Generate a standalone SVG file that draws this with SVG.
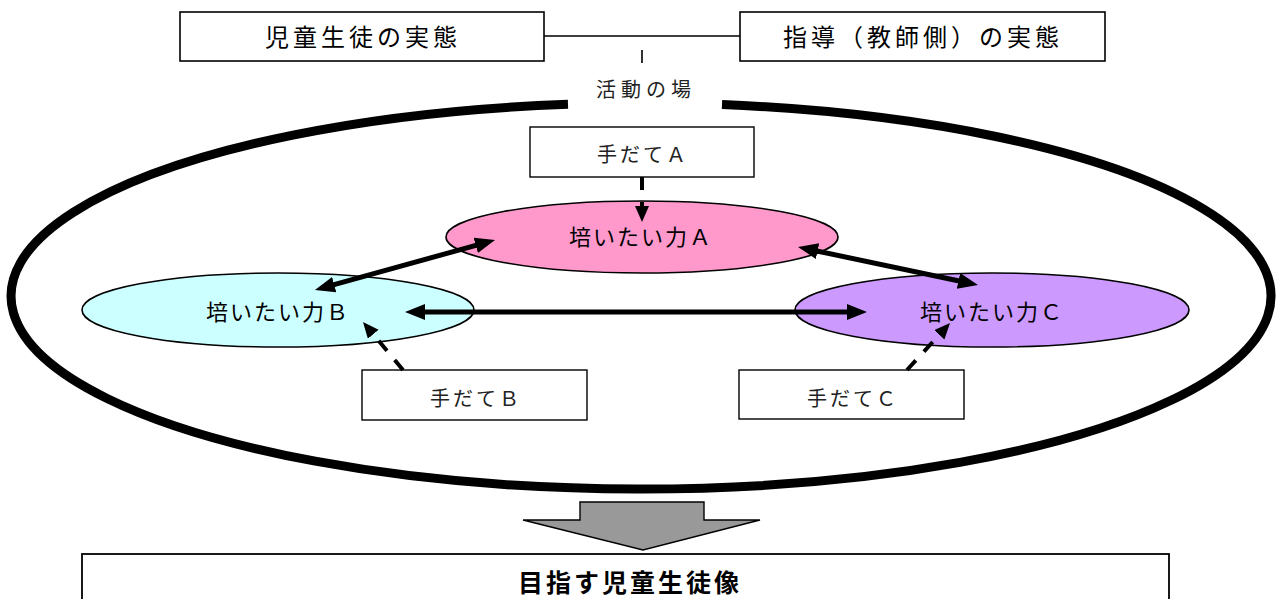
<svg xmlns="http://www.w3.org/2000/svg" width="1280" height="599" viewBox="0 0 1280 599">
<style>
.box{fill:#fff;stroke:#000;stroke-width:1.6}
.sub{fill:#fff;stroke:#000;stroke-width:1.4}
.hd{font-family:"Liberation Sans","Noto Sans CJK JP",sans-serif;font-size:24px;fill:#000;text-anchor:middle;letter-spacing:4px}
.mn{font-family:"Liberation Serif","Noto Sans CJK JP",serif;font-size:20px;fill:#222;text-anchor:middle;letter-spacing:3px}
.lb{font-family:"Liberation Sans","Noto Sans CJK JP",sans-serif;font-size:22px;fill:#000;text-anchor:middle;letter-spacing:2px}
.el{stroke:#000;stroke-width:1.6}
.solid{stroke:#000;stroke-width:5;fill:none}
.dash{stroke:#000;stroke-width:4;fill:none;stroke-dasharray:13 12}
</style>
<defs>
<marker id="ah" markerUnits="userSpaceOnUse" markerWidth="22" markerHeight="18" refX="2" refY="8" orient="auto-start-reverse"><path d="M0,0 L20,8 L0,16 z" fill="#000"/></marker>
<marker id="dh" markerUnits="userSpaceOnUse" markerWidth="18" markerHeight="15" refX="1" refY="7" orient="auto"><path d="M0,0 L16,7 L0,14 z" fill="#000"/></marker>
</defs>
<rect width="1280" height="599" fill="#fff"/>
<g id="field">
<path d="M568 104.3 A630 193 0 1 0 722 104.6" fill="none" stroke="#000" stroke-width="9"/>
<text x="646" y="97" font-family="Liberation Serif,'Noto Sans CJK JP',serif" font-size="20" fill="#222" text-anchor="middle" letter-spacing="5">活動の場</text>
</g>
<g id="child-state">
<rect class="box" x="180" y="12" width="364" height="49"/>
<text class="hd" x="363" y="46">児童生徒の実態</text>
</g>
<g id="teacher-state">
<rect class="box" x="740" y="12" width="365" height="49"/>
<text class="hd" x="923" y="46">指導（教師側）の実態</text>
</g>
<g id="power-a">
<ellipse class="el" cx="642" cy="237" rx="196" ry="36" fill="#FF99CC"/>
<text class="lb" x="641" y="245">培いたい力Ａ</text>
</g>
<g id="power-b">
<ellipse class="el" cx="278" cy="310" rx="196" ry="37" fill="#CCFFFF"/>
<text class="lb" x="278" y="320">培いたい力Ｂ</text>
</g>
<g id="power-c">
<ellipse class="el" cx="992" cy="310" rx="197" ry="37" fill="#CC99FF"/>
<text class="lb" x="992" y="320">培いたい力Ｃ</text>
</g>
<g id="means-a">
<rect class="sub" x="530" y="127" width="224" height="50"/>
<text class="mn" x="643" y="162">手だてＡ</text>
</g>
<g id="means-b">
<rect class="sub" x="362" y="370" width="225" height="50"/>
<text class="mn" x="476" y="406">手だてＢ</text>
</g>
<g id="means-c">
<rect class="sub" x="739" y="370" width="225" height="49"/>
<text class="mn" x="853" y="406">手だてＣ</text>
</g>
<g id="goal">
<rect x="82" y="554" width="1087" height="60" fill="#fff" stroke="#000" stroke-width="1.8"/>
<text x="630" y="592" font-family="'Liberation Sans','Noto Sans CJK JP',sans-serif" font-size="25" font-weight="bold" text-anchor="middle" letter-spacing="3">目指す児童生徒像</text>
</g>
<g id="connectors">
<path d="M544 36 H740 M642 50 V63" stroke="#000" stroke-width="1.6" fill="none"/>
<line class="solid" x1="332.3" y1="285.2" x2="477.7" y2="244.8" marker-start="url(#ah)" marker-end="url(#ah)"/>
<line class="solid" x1="815.6" y1="250.7" x2="960.4" y2="281.3" marker-start="url(#ah)" marker-end="url(#ah)"/>
<line class="solid" x1="423" y1="312" x2="849" y2="312" marker-start="url(#ah)" marker-end="url(#ah)"/>
<line class="dash" x1="642" y1="177" x2="642" y2="207" marker-end="url(#dh)"/>
<line class="dash" x1="403" y1="370" x2="372.6" y2="333.5" marker-end="url(#dh)"/>
<line class="dash" x1="907" y1="370" x2="939.9" y2="334.1" marker-end="url(#dh)"/>
<polygon points="580,502 704,502 704,520 760,520 643,550 523,520 580,520" fill="#999" stroke="#000" stroke-width="1.4"/>
</g>
</svg>
